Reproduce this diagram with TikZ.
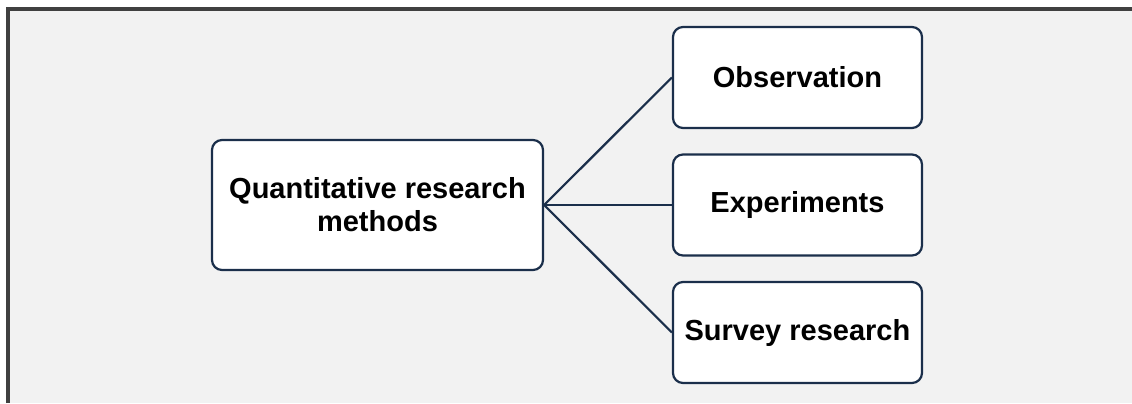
\documentclass[tikz,border=0pt]{standalone}
\usepackage{fontspec}
\setmainfont{Liberation Sans}

\definecolor{panelgray}{HTML}{F2F2F2}
\definecolor{framegray}{HTML}{404040}
\definecolor{boxnavy}{HTML}{1B2F4B}

\begin{document}
\begin{tikzpicture}[x=0.5pt,y=-0.5pt] % one unit = one pixel of the reference

\tikzset{
  methodbox/.style={draw=boxnavy,line width=1.1pt,fill=white,rounded corners=5pt,
    inner sep=0pt,align=center,text=black,
    font=\bfseries\fontsize{14.5}{16.5}\selectfont},
  rootbox/.style={methodbox,minimum width=165.5pt,minimum height=65pt},
  leafbox/.style={methodbox,minimum width=124.5pt,minimum height=50.5pt},
  link/.style={draw=boxnavy,line width=1.1pt}
}

% Background panel and its frame
\useasboundingbox (0,0) rectangle (1132,403);
\fill[white] (0,0) rectangle (1132,403);
\fill[panelgray] (8,9) rectangle (1132,403);
\draw[framegray,line width=2pt] (8,403) -- (8,9) -- (1132,9);

% Main method box
\node[rootbox] (root) at (377.5,205) {Quantitative research\\methods};

% The three methods and their links
\foreach \name/\y/\txt in {obs/77.5/Observation, exp/205/Experiments, sur/332.5/Survey research} {
    \node[leafbox] (\name) at (797.5,\y) {\txt};
    \draw[link] (root.east) -- (\name.west);
}

\end{tikzpicture}
\end{document}
